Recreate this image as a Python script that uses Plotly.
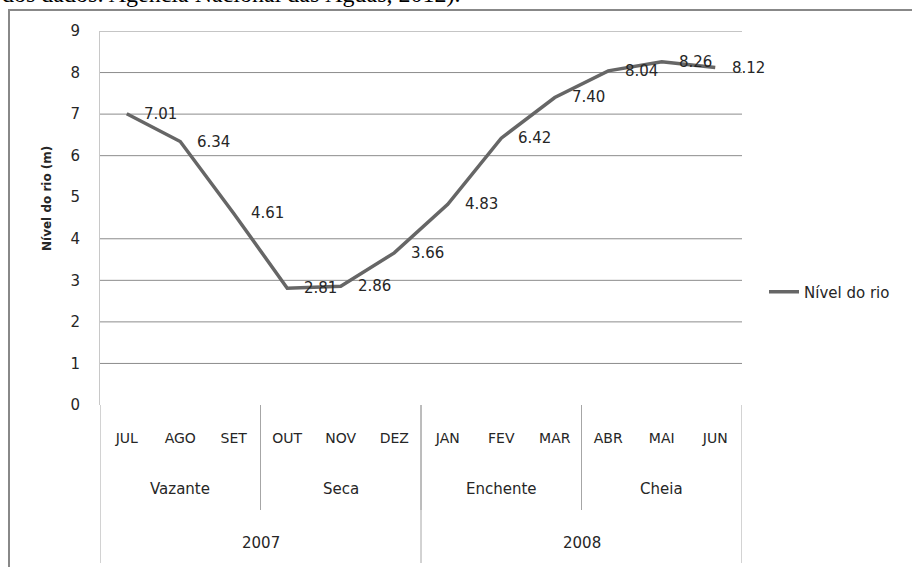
import plotly.graph_objects as go

months = ["JUL", "AGO", "SET", "OUT", "NOV", "DEZ", "JAN", "FEV", "MAR", "ABR", "MAI", "JUN"]
nivel = [7.01, 6.34, 4.61, 2.81, 2.86, 3.66, 4.83, 6.42, 7.40, 8.04, 8.26, 8.12]
phases = ["Vazante", "Seca", "Enchente", "Cheia"]
phase_months = [3, 3, 3, 3]
years = ["2007", "2008"]
year_months = [6, 6]
y_ticks = [0, 1, 2, 3, 4, 5, 6, 7, 8, 9]
grid_levels = [1, 2, 3, 4, 6, 7, 8, 9]
series_name = "Nível do rio"
y_title = "Nível do rio (m)"
top_text = "dos dados: Agência Nacional das Águas, 2012)."

FONT = "DejaVu Sans"
TXT = "#262626"
W, H = 912, 567
L, R, T, B = 100, 170, 31, 162
ph = H - T - B

def py(pix):
    return (H - B - pix) / ph

def px_(pix):
    return (pix - L) / (W - L - R)

fig = go.Figure()
fig.add_trace(go.Scatter(
    x=months, y=nivel, mode="lines", name=series_name,
    line=dict(color="#666666", width=3.5),
))

annotations = []
for m, v in zip(months, nivel):
    annotations.append(dict(x=m, y=v, xref="x", yref="y", text=f"{v:.2f}",
                            showarrow=False, xanchor="left", yanchor="middle",
                            xshift=15, font=dict(family=FONT, size=15, color=TXT)))

shapes = []
# horizontal gridlines
for g in grid_levels:
    shapes.append(dict(type="line", xref="paper", yref="y", x0=0, x1=1, y0=g, y1=g,
                       line=dict(color="#8c8c8c", width=1), layer="below"))

# phase labels and dividers
start = 0
for name, n in zip(phases, phase_months):
    center = start + (n - 1) / 2
    annotations.append(dict(x=center, y=py(489), xref="x", yref="paper", text=name,
                            showarrow=False, yanchor="middle",
                            font=dict(family=FONT, size=15, color=TXT)))
    start += n
    if start < len(months):
        shapes.append(dict(type="line", xref="x", yref="paper", x0=start - 0.5, x1=start - 0.5,
                           y0=0, y1=py(510), line=dict(color="#a6a6a6", width=1)))

start = 0
shapes.append(dict(type="line", xref="x", yref="paper", x0=-0.5, x1=-0.5,
                   y0=0, y1=py(563), line=dict(color="#a6a6a6", width=1)))
for name, n in zip(years, year_months):
    center = start + (n - 1) / 2
    annotations.append(dict(x=center, y=py(543), xref="x", yref="paper", text=name,
                            showarrow=False, yanchor="middle",
                            font=dict(family=FONT, size=15, color=TXT)))
    start += n
    shapes.append(dict(type="line", xref="x", yref="paper", x0=start - 0.5, x1=start - 0.5,
                       y0=0, y1=py(563), line=dict(color="#a6a6a6", width=1)))

# outer frame
shapes.append(dict(type="rect", xref="paper", yref="paper",
                   x0=px_(9), x1=px_(930), y0=py(10), y1=py(590),
                   line=dict(color="#888888", width=2), layer="below"))

# y axis title
annotations.append(dict(x=px_(47), y=py(199), xref="paper", yref="paper", text=f"<b>{y_title}</b>",
                        textangle=-90, showarrow=False, xanchor="center", yanchor="middle",
                        font=dict(family=FONT, size=12, color=TXT)))

# cropped caption at top
annotations.append(dict(x=px_(0), y=py(9), xref="paper", yref="paper", text=top_text,
                        showarrow=False, xanchor="left", yanchor="bottom",
                        font=dict(family="Liberation Serif", size=24, color="#000000")))

fig.update_layout(
    width=W, height=H,
    margin=dict(l=L, r=R, t=T, b=B),
    paper_bgcolor="white", plot_bgcolor="white",
    showlegend=True,
    legend=dict(x=px_(764), y=py(292), xanchor="left", yanchor="middle",
                font=dict(family=FONT, size=15, color=TXT), bgcolor="rgba(0,0,0,0)"),
    xaxis=dict(type="category", categoryorder="array", categoryarray=months,
               range=[-0.5, len(months) - 0.5], showgrid=False, showline=False, zeroline=False,
               ticks="outside", ticklen=20, tickcolor="rgba(0,0,0,0)",
               tickfont=dict(family=FONT, size=14, color=TXT), fixedrange=True),
    yaxis=dict(range=[0, 9], tickvals=y_ticks, showgrid=False, zeroline=False,
               showline=True, linecolor="#c8c8c8", linewidth=1,
               ticks="outside", ticklen=16, tickcolor="rgba(0,0,0,0)",
               tickfont=dict(family=FONT, size=15, color=TXT)),
    annotations=annotations,
    shapes=shapes,
)

fig.write_html("out.html", config={"displayModeBar": False},
               post_script="document.body.style.margin='0';document.body.style.overflow='hidden';")
